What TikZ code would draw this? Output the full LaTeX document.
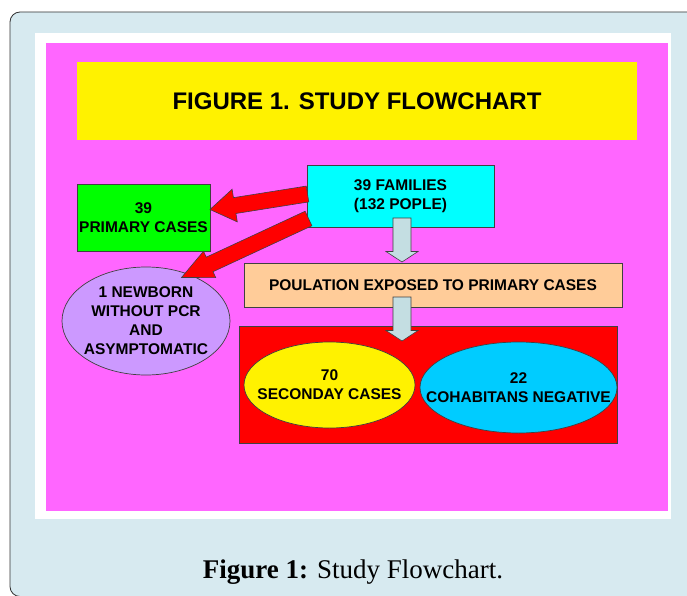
\documentclass[tikz,border=0pt]{standalone}
\usepackage{fontspec}
\setmainfont{Liberation Serif}
\setsansfont{Liberation Sans}
\usepackage{tikz}
\usetikzlibrary{calc, shapes.geometric}

\definecolor{panelblue}{HTML}{D7EAF0}
\definecolor{flowpink}{HTML}{FF66FF}
\definecolor{famcyan}{HTML}{00FFFF}
\definecolor{primgreen}{HTML}{00FF00}
\definecolor{newbornlilac}{HTML}{CC99FF}
\definecolor{expopeach}{HTML}{FFCC99}
\definecolor{negblue}{HTML}{00CCFF}
\definecolor{downgray}{HTML}{C4DEE2}

\tikzset{
    txt/.style={font=\sffamily\bfseries\fontsize{15.5}{19}\selectfont, align=center, inner sep=0pt},
    box/.style={draw=black!75, line width=0.7pt, txt},
    ellip/.style={ellipse, draw=black!75, line width=0.7pt, inner sep=0pt},
    redarrow/.style={fill=red, draw=black!75, line width=0.6pt},
    downarrow/.style={fill=downgray, draw=black!75, line width=0.6pt}
}

% block arrow: style, tail, tip, half shaft, half head, head length
\newcommand{\blockarrow}[6]{%
    \path (#3) coordinate (ba-tip) ($(#3)!#6!(#2)$) coordinate (ba-neck);
    \filldraw[#1] ($(#2)!#4!90:(#3)$) -- ($(ba-neck)!#4!90:(ba-tip)$)
        -- ($(ba-neck)!#5!90:(ba-tip)$) -- (ba-tip)
        -- ($(ba-neck)!#5!-90:(ba-tip)$) -- ($(ba-neck)!#4!-90:(ba-tip)$)
        -- ($(#2)!#4!-90:(#3)$) -- cycle;
}

\begin{document}
\begin{tikzpicture}[x=1pt, y=-1pt]
    % Fix the page size
    \useasboundingbox (0,0) rectangle (687,596);

    % Draw the panel, the frame and the pink sheet
    \filldraw[fill=panelblue, draw=black!80, line width=0.8pt, rounded corners=10pt] (10,12) rectangle (730,596.5);
    \fill[white] (35,33) rectangle (671,519);
    \fill[flowpink] (45.5,43) rectangle (668,511);

    % Add the title
    \node[fill=yellow, minimum width=560pt, minimum height=78pt, font=\sffamily\bfseries\fontsize{24}{28}\selectfont] (title) at (357,101) {FIGURE 1. STUDY FLOWCHART};

    % Add the boxes
    \node[box, fill=famcyan, minimum width=187pt, minimum height=62pt] (fam) at (400.5,196) {39 FAMILIES\\(132 POPLE)};
    \node[box, fill=primgreen, minimum width=133pt, minimum height=67pt] (prim) at (143.5,217.5) {39\\PRIMARY CASES};
    \node[box, fill=expopeach, minimum width=378pt, minimum height=44pt] (expo) at (433,285) {POULATION EXPOSED TO PRIMARY CASES};
    \node[box, fill=red, minimum width=378pt, minimum height=117pt] (grp) at (428,384.5) {};

    % Add the ellipses
    \node[ellip, fill=newbornlilac, minimum width=168pt, minimum height=108pt] (newborn) at (146,321) {};
    \node[txt] (newborntxt) at (newborn) {1 NEWBORN\\WITHOUT PCR\\AND\\ASYMPTOMATIC};
    \node[ellip, fill=yellow, minimum width=171pt, minimum height=86pt] (sec) at (329.5,385) {};
    \node[txt] (sectxt) at (sec) {70\\SECONDAY CASES};
    \node[ellip, fill=negblue, minimum width=197pt, minimum height=91pt] (neg) at (518.5,387.5) {};
    \node[txt] (negtxt) at (neg) {22\\COHABITANS NEGATIVE};

    % Add the arrows
    \coordinate (tailA) at (307.5,194);
    \coordinate (tipA) at (210,209.5);
    \coordinate (tailB) at (308.5,218.5);
    \coordinate (tipB) at (181.5,277.5);
    \blockarrow{redarrow}{tailA}{tipA}{8pt}{16.5pt}{25pt}
    \blockarrow{redarrow}{tailB}{tipB}{8pt}{14.5pt}{31pt}
    \coordinate (tailC) at (402,218);
    \coordinate (tipC) at (402,262);
    \coordinate (tailD) at (402,297);
    \coordinate (tipD) at (402,341);
    \blockarrow{downarrow}{tailC}{tipC}{9pt}{16pt}{10.5pt}
    \blockarrow{downarrow}{tailD}{tipD}{9pt}{16pt}{10.5pt}

    % Add the caption
    \node[anchor=base, font=\fontsize{27}{30}\selectfont] (caption) at (353,578) {\textbf{Figure 1:} Study Flowchart.};
\end{tikzpicture}
\end{document}
